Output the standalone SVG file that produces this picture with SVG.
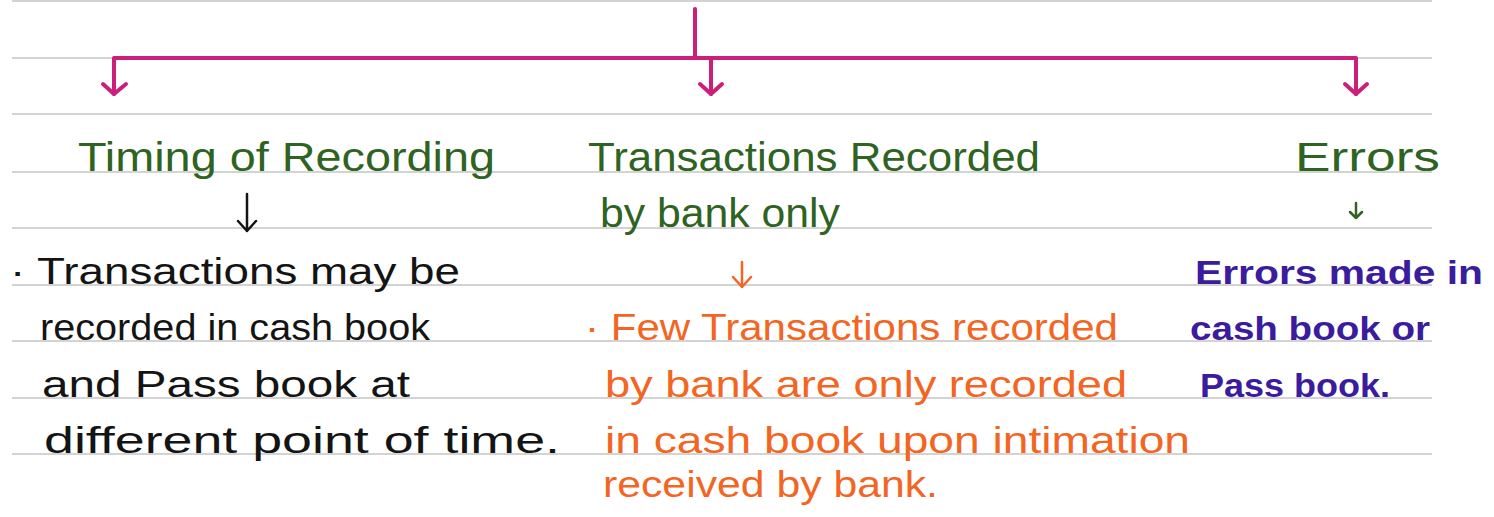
<svg xmlns="http://www.w3.org/2000/svg" width="1494" height="517" viewBox="0 0 1494 517">
<style>
.rule{stroke:#c4c4c4;stroke-width:1.5}
.mag{stroke:#cc1f7a;stroke-width:4;fill:none;stroke-linecap:round;stroke-linejoin:round}
.sm{stroke-width:2.5;fill:none;stroke-linecap:round;stroke-linejoin:round}
text{font-family:"Liberation Sans",Arial,sans-serif}
.h{fill:#2f6322;font-size:41px}
.k{fill:#141414;font-size:36px}
.o{fill:#f26522;font-size:36px}
.b{fill:#3a1c9c;font-size:33px;font-weight:bold}
</style>
<rect width="1494" height="517" fill="#ffffff"/>
<g id="ruled-lines">
<line class="rule" x1="12" y1="1" x2="1432" y2="1"/>
<line class="rule" x1="12" y1="58" x2="1432" y2="58"/>
<line class="rule" x1="12" y1="114" x2="1432" y2="114"/>
<line class="rule" x1="12" y1="172" x2="1432" y2="172"/>
<line class="rule" x1="12" y1="228" x2="1432" y2="228"/>
<line class="rule" x1="12" y1="285" x2="1432" y2="285"/>
<line class="rule" x1="12" y1="341" x2="1432" y2="341"/>
<line class="rule" x1="12" y1="398" x2="1432" y2="398"/>
<line class="rule" x1="12" y1="454" x2="1432" y2="454"/>
</g>
<g id="connectors">
<path class="mag" d="M695 9 V58"/>
<path class="mag" d="M114 94 V58 H1356 V94"/>
<path class="mag" d="M711 58 V94"/>
<path class="mag" d="M103 84 L114 94 L126 84"/>
<path class="mag" d="M700 84 L711 94 L722 84"/>
<path class="mag" d="M1345 84 L1356 94 L1367 84"/>
<path class="sm" stroke="#141414" d="M247 194 V231 M238 221 L247 231 L256 221"/>
<path class="sm" stroke="#f26522" d="M742 262 V287 M733 277 L742 287 L751 277"/>
<path class="sm" stroke="#2f6322" d="M1356 203 V218 M1350 212 L1356 218 L1362 212"/>
</g>
<g id="node-timing">
<text class="h" x="78" y="171" textLength="417" lengthAdjust="spacingAndGlyphs">Timing of Recording</text>
</g>
<g id="node-timing-detail">
<text class="k" x="10" y="284" textLength="450" lengthAdjust="spacingAndGlyphs">· Transactions may be</text>
<text class="k" x="40" y="340" textLength="390" lengthAdjust="spacingAndGlyphs">recorded in cash book</text>
<text class="k" x="42" y="397" textLength="368" lengthAdjust="spacingAndGlyphs">and Pass book at</text>
<text class="k" x="44" y="453" textLength="516" lengthAdjust="spacingAndGlyphs">different point of time.</text>
</g>
<g id="node-bank-only">
<text class="h" x="588" y="171" textLength="452" lengthAdjust="spacingAndGlyphs">Transactions Recorded</text>
<text class="h" x="600" y="227" textLength="240" lengthAdjust="spacingAndGlyphs">by bank only</text>
</g>
<g id="node-bank-detail">
<text class="o" x="585" y="340" textLength="533" lengthAdjust="spacingAndGlyphs">· Few Transactions recorded</text>
<text class="o" x="605" y="397" textLength="522" lengthAdjust="spacingAndGlyphs">by bank are only recorded</text>
<text class="o" x="605" y="453" textLength="585" lengthAdjust="spacingAndGlyphs">in cash book upon intimation</text>
<text class="o" x="603" y="497" textLength="335" lengthAdjust="spacingAndGlyphs">received by bank.</text>
</g>
<g id="node-errors">
<text class="h" x="1295" y="171" textLength="145" lengthAdjust="spacingAndGlyphs">Errors</text>
</g>
<g id="node-errors-detail">
<text class="b" x="1195" y="284" textLength="288" lengthAdjust="spacingAndGlyphs">Errors made in</text>
<text class="b" x="1190" y="340" textLength="240" lengthAdjust="spacingAndGlyphs">cash book or</text>
<text class="b" x="1200" y="397" textLength="190" lengthAdjust="spacingAndGlyphs">Pass book.</text>
</g>
</svg>
